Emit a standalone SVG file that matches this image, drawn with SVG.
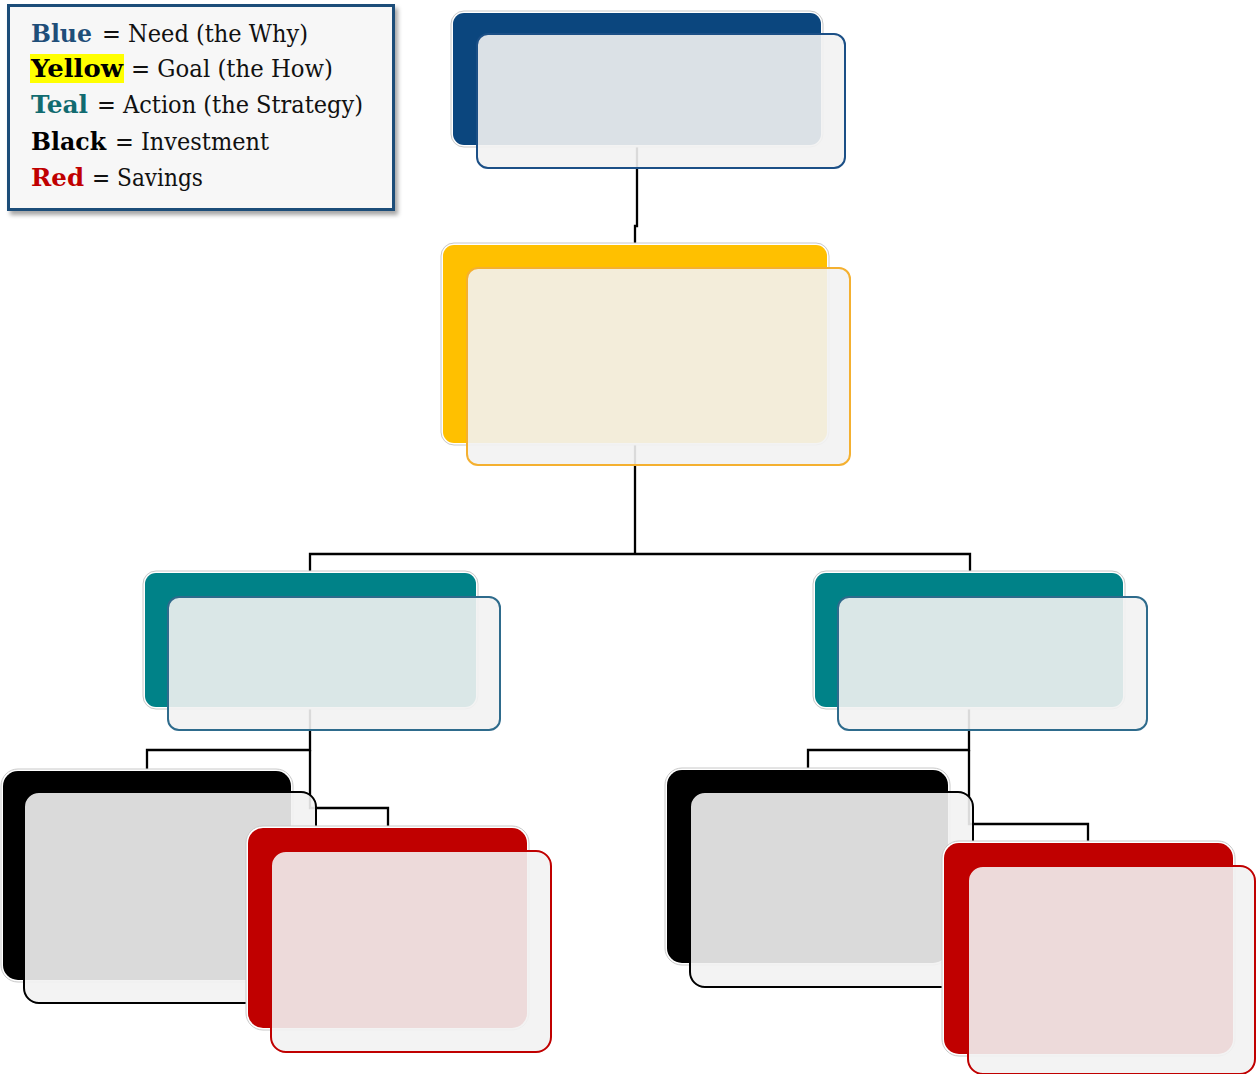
<svg xmlns="http://www.w3.org/2000/svg" width="1259" height="1074" viewBox="0 0 1259 1074">
<defs>
<filter id="shadow" x="-10%" y="-10%" width="120%" height="130%">
<feDropShadow dx="3" dy="4" stdDeviation="2" flood-color="#000" flood-opacity="0.35"/>
</filter>
<style>
.halo{fill:#fff;stroke:#c8c8c8;stroke-width:1}
.front{fill:#f2f2f2;fill-opacity:0.9;stroke-width:2}
.conn{fill:none;stroke:#000;stroke-width:2.3}
.lg{font-family:"DejaVu Serif","Liberation Serif",serif;font-size:25px;fill:#111}
.lgb{font-family:"DejaVu Serif","Liberation Serif",serif;font-size:25px;font-weight:bold}
</style>
</defs>
<rect width="1259" height="1074" fill="#fff"/>
<g id="connectors">
<path class="conn" d="M637,146 V226 H635 V246"/>
<path class="conn" d="M635,443 V554"/>
<path class="conn" d="M310,574 V554 H970 V574"/>
<path class="conn" d="M310,708 V750 H147 V771"/>
<path class="conn" d="M310,750 V808 H388 V829"/>
<path class="conn" d="M969,708 V750 H808 V771"/>
<path class="conn" d="M969,750 V824 H1088 V844"/>
</g>
<g id="legend">
<rect x="8.5" y="5.5" width="385" height="204" fill="#f7f7f7" stroke="#1f4e79" stroke-width="3" filter="url(#shadow)"/>
<rect x="30" y="54" width="94" height="29" fill="#ffff00"/>
<text class="lgb" x="31" y="42" fill="#1f4e79" textLength="61" lengthAdjust="spacingAndGlyphs">Blue</text>
<text class="lg" x="102" y="42" textLength="206" lengthAdjust="spacingAndGlyphs">= Need (the Why)</text>
<text class="lgb" x="31" y="77" fill="#000" textLength="92" lengthAdjust="spacingAndGlyphs">Yellow</text>
<text class="lg" x="131" y="77" textLength="202" lengthAdjust="spacingAndGlyphs">= Goal (the How)</text>
<text class="lgb" x="31" y="113" fill="#116b70" textLength="57" lengthAdjust="spacingAndGlyphs">Teal</text>
<text class="lg" x="97" y="113" textLength="266" lengthAdjust="spacingAndGlyphs">= Action (the Strategy)</text>
<text class="lgb" x="31" y="150" fill="#000" textLength="75" lengthAdjust="spacingAndGlyphs">Black</text>
<text class="lg" x="115" y="150" textLength="154" lengthAdjust="spacingAndGlyphs">= Investment</text>
<text class="lgb" x="31" y="186" fill="#c00000" textLength="53" lengthAdjust="spacingAndGlyphs">Red</text>
<text class="lg" x="92" y="186" textLength="111" lengthAdjust="spacingAndGlyphs">= Savings</text>
</g>
<g id="need">
<rect class="halo" x="451" y="11" width="372" height="136" rx="13"/>
<rect x="453" y="13" width="368" height="132" rx="11" fill="#0b467e"/>
<rect class="front" x="477" y="34" width="368" height="134" rx="11" stroke="#1b4f86"/>
</g>
<g id="goal">
<rect class="halo" x="441" y="243" width="388" height="202" rx="13"/>
<rect x="443" y="245" width="384" height="198" rx="11" fill="#ffc000"/>
<rect class="front" x="467" y="268" width="383" height="197" rx="11" stroke="#f4b030"/>
</g>
<g id="action-left">
<rect class="halo" x="143" y="571" width="335" height="138" rx="13"/>
<rect x="145" y="573" width="331" height="134" rx="11" fill="#008288"/>
<rect class="front" x="168" y="597" width="332" height="133" rx="11" stroke="#2e6b8c"/>
</g>
<g id="action-right">
<rect class="halo" x="813" y="571" width="312" height="138" rx="13"/>
<rect x="815" y="573" width="308" height="134" rx="11" fill="#008288"/>
<rect class="front" x="838" y="597" width="309" height="133" rx="11" stroke="#2e6b8c"/>
</g>
<g id="investment-left">
<rect class="halo" x="1" y="769" width="292" height="213" rx="17"/>
<rect x="3" y="771" width="288" height="209" rx="15" fill="#000"/>
<rect class="front" x="24" y="792" width="292" height="211" rx="15" stroke="#000"/>
</g>
<g id="savings-left">
<rect class="halo" x="246" y="826" width="283" height="204" rx="17"/>
<rect x="248" y="828" width="279" height="200" rx="15" fill="#c00000"/>
<rect class="front" x="271" y="851" width="280" height="201" rx="15" stroke="#c00000"/>
</g>
<g id="investment-right">
<rect class="halo" x="665" y="768" width="285" height="197" rx="17"/>
<rect x="667" y="770" width="281" height="193" rx="15" fill="#000"/>
<rect class="front" x="690" y="792" width="283" height="195" rx="15" stroke="#000"/>
</g>
<g id="savings-right">
<rect class="halo" x="942" y="841" width="293" height="215" rx="17"/>
<rect x="944" y="843" width="289" height="211" rx="15" fill="#c00000"/>
<rect class="front" x="968" y="866" width="287" height="208" rx="15" stroke="#c00000"/>
</g>
</svg>
